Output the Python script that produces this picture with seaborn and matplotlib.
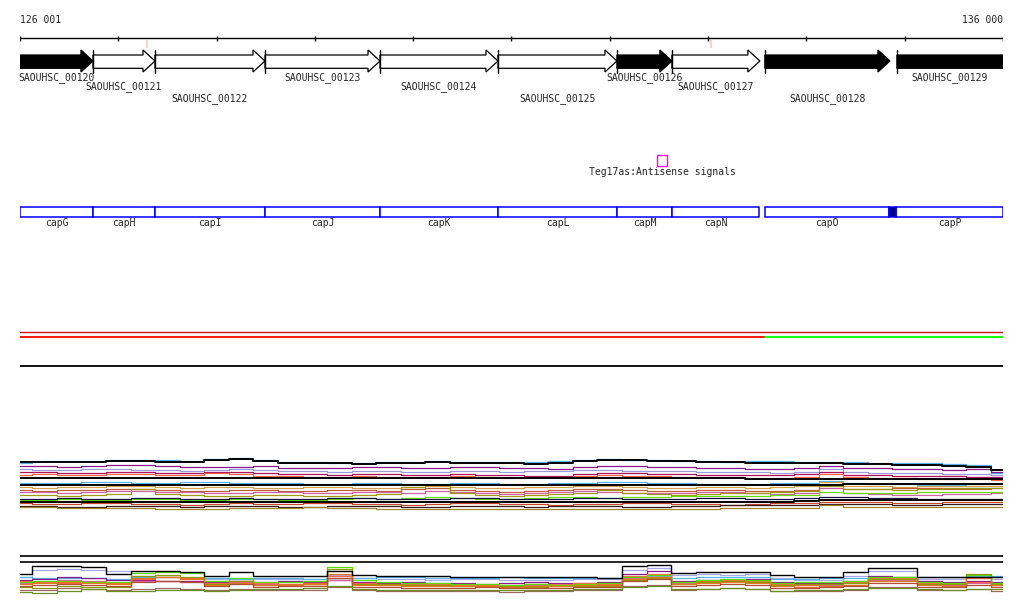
import pandas as pd
import matplotlib
matplotlib.use("Agg")
import matplotlib.pyplot as plt
from matplotlib.patches import Polygon, Rectangle
import seaborn as sns

# genome window shown
region_start = 126001
region_end = 136000
tick_pos = [126001, 127000, 128000, 129000, 130000, 131000, 132000, 133000, 134000, 135000, 136000]

# annotated genes (SAOUHSC locus tags)
gene_names = ["SAOUHSC_00120", "SAOUHSC_00121", "SAOUHSC_00122", "SAOUHSC_00123", "SAOUHSC_00124",
              "SAOUHSC_00125", "SAOUHSC_00126", "SAOUHSC_00127", "SAOUHSC_00128", "SAOUHSC_00129"]
gene_start = [125700, 126743, 127374, 128493, 129663, 130863, 132073, 132632, 133578, 134921]
gene_end = [126743, 127374, 128493, 129663, 130863, 132073, 132632, 133527, 134850, 136500]
gene_filled = [True, False, False, False, False, False, True, False, True, True]

# cap operon boxes
cap_names = ["capG", "capH", "capI", "capJ", "capK", "capL", "capM", "capN", "capO", "capP"]
cap_start = [126001, 126743, 127374, 128493, 129663, 130863, 132073, 132632, 133578, 134911]
cap_end = [126743, 127374, 128493, 129663, 130863, 132073, 132632, 133517, 134840, 136000]
cap_gap_start = 134840
cap_gap_end = 134911

# antisense signal
teg_start = 132480
teg_end = 132582
teg_label = "Teg17as:Antisense signals"
pink_marks = [127293, 133029]

# strand / operon lines
strand_start = [126001, 133578]
strand_end = [133578, 136000]
strand_colors = ["#ff0000", "#00ff00"]

# probe positions for the expression traces
probe_pos = [126000, 126250, 126500, 126750, 127000, 127250, 127500, 127750, 128000, 128250,
             128500, 128750, 129000, 129250, 129500, 129750, 130000, 130250, 130500, 130750,
             131000, 131250, 131500, 131750, 132000, 132250, 132500, 132750, 133000, 133250,
             133500, 133750, 134000, 134250, 134500, 134750, 135000, 135250, 135500, 135750,
             136000]

# upper expression panel (log2 signal)
up_black_1 = [10.6, 10.6, 10.6, 10.6, 10.8, 10.8, 10.6, 10.6, 11.0, 11.2,
              10.8, 10.4, 10.4, 10.4, 10.2, 10.4, 10.4, 10.6, 10.4, 10.4,
              10.4, 10.2, 10.4, 10.8, 11.0, 11.0, 10.8, 10.8, 10.6, 10.6,
              10.4, 10.4, 10.4, 10.4, 10.2, 10.2, 10.0, 10.0, 9.8, 9.6,
              9.0]
up_blue_1 = [10.4, 10.8, 10.8, 10.8, 11.0, 11.0, 11.0, 10.8, 11.2, 11.4,
             11.0, 10.6, 10.6, 10.4, 10.4, 10.6, 10.6, 10.8, 10.6, 10.6,
             10.6, 10.6, 10.8, 11.0, 11.2, 11.0, 11.0, 10.8, 10.8, 10.6,
             10.8, 10.8, 10.6, 10.6, 10.6, 10.4, 10.4, 10.4, 10.2, 10.0,
             8.4]
up_purple = [9.8, 9.8, 9.6, 9.8, 10.0, 10.0, 9.8, 9.6, 9.6, 9.6,
             9.8, 9.4, 9.4, 9.4, 9.6, 9.6, 9.4, 9.4, 9.6, 9.6,
             9.4, 9.4, 9.2, 9.6, 9.8, 9.8, 9.6, 9.6, 9.4, 9.4,
             9.2, 9.2, 9.4, 9.8, 9.4, 9.4, 9.2, 9.2, 9.0, 9.2,
             8.6]
up_lavender = [9.2, 9.0, 9.0, 9.2, 9.2, 9.0, 9.0, 8.8, 9.0, 9.2,
               9.0, 8.8, 8.8, 8.6, 8.8, 8.8, 8.6, 8.6, 8.8, 8.8,
               8.6, 8.8, 8.8, 9.0, 9.0, 8.8, 8.8, 8.8, 8.6, 8.6,
               8.6, 8.4, 8.6, 9.2, 8.6, 8.4, 8.4, 8.4, 8.2, 8.2,
               8.0]
up_crimson = [8.6, 8.6, 8.4, 8.4, 8.6, 8.6, 8.4, 8.4, 8.6, 8.6,
              8.4, 8.2, 8.2, 8.0, 8.2, 8.2, 8.0, 8.0, 8.2, 8.0,
              8.0, 7.8, 7.8, 8.2, 8.4, 8.4, 8.2, 8.2, 8.0, 8.0,
              8.0, 8.0, 8.2, 8.6, 8.0, 8.0, 7.8, 7.8, 7.8, 7.6,
              7.6]
up_tomato = [8.0, 8.2, 8.0, 8.0, 8.2, 8.2, 8.0, 8.0, 8.4, 8.2,
             7.8, 7.8, 7.6, 7.6, 7.8, 7.6, 7.6, 7.6, 7.8, 7.6,
             7.4, 7.6, 7.6, 7.8, 8.0, 7.8, 7.8, 7.6, 7.6, 7.6,
             7.4, 7.4, 7.6, 8.2, 7.6, 7.4, 7.4, 7.2, 7.2, 7.2,
             7.0]
up_black_2 = [7.4, 7.4, 7.4, 7.4, 7.4, 7.4, 7.4, 7.4, 7.4, 7.4,
              7.4, 7.4, 7.4, 7.4, 7.4, 7.4, 7.4, 7.4, 7.4, 7.4,
              7.4, 7.4, 7.4, 7.4, 7.4, 7.4, 7.4, 7.4, 7.4, 7.4,
              7.2, 7.2, 7.2, 7.2, 7.2, 7.2, 7.2, 7.2, 7.2, 7.2,
              7.2]
up_blue_2 = [6.4, 6.4, 6.4, 6.6, 6.6, 6.4, 6.4, 6.6, 6.6, 6.4,
             6.4, 6.4, 6.2, 6.2, 6.4, 6.4, 6.2, 6.2, 6.4, 6.4,
             6.2, 6.2, 6.4, 6.4, 6.6, 6.6, 6.4, 6.4, 6.2, 6.2,
             6.2, 6.4, 6.4, 6.8, 6.4, 6.2, 6.2, 6.0, 6.0, 5.8,
             5.8]
up_black_3 = [6.0, 6.0, 6.0, 6.0, 6.0, 6.0, 6.0, 6.0, 6.0, 6.0,
              6.0, 6.0, 6.0, 6.0, 6.0, 6.0, 6.0, 6.0, 6.0, 6.0,
              6.0, 6.0, 6.0, 6.0, 6.0, 6.0, 6.0, 6.0, 6.0, 6.0,
              6.0, 6.0, 6.0, 6.0, 6.2, 6.2, 6.2, 6.2, 6.2, 6.2,
              6.2]
up_tan = [5.6, 5.4, 5.6, 5.6, 5.8, 5.8, 5.6, 5.4, 5.6, 5.6,
          5.4, 5.4, 5.6, 5.6, 5.4, 5.4, 5.6, 5.8, 5.6, 5.4,
          5.4, 5.6, 5.6, 5.8, 5.8, 5.6, 5.4, 5.4, 5.6, 5.6,
          5.4, 5.6, 5.8, 6.6, 5.8, 5.8, 5.6, 5.8, 5.8, 5.8,
          5.8]
up_sienna = [5.0, 4.8, 5.0, 5.0, 5.2, 5.2, 5.0, 4.8, 4.8, 5.0,
             5.0, 4.8, 4.8, 5.0, 5.0, 4.8, 5.2, 5.4, 5.0, 4.8,
             4.6, 4.8, 5.0, 5.2, 5.2, 5.0, 4.8, 4.8, 5.0, 5.0,
             4.8, 4.8, 5.0, 6.0, 5.2, 5.2, 5.4, 5.4, 5.2, 5.2,
             5.4]
up_pink = [4.6, 4.6, 4.4, 4.6, 4.8, 4.8, 4.6, 4.6, 4.4, 4.4,
           4.6, 4.6, 4.4, 4.4, 4.6, 4.6, 4.4, 4.8, 4.6, 4.4,
           4.2, 4.4, 4.6, 4.8, 4.6, 4.4, 4.4, 4.4, 4.6, 4.6,
           4.4, 4.2, 4.4, 5.4, 4.4, 4.2, 4.0, 4.0, 4.2, 4.2,
           4.4]
up_olive = [4.0, 4.0, 3.8, 4.0, 4.2, 5.2, 4.2, 4.0, 3.8, 3.8,
            4.0, 4.0, 3.8, 3.8, 4.0, 4.2, 5.6, 6.0, 4.4, 4.0,
            3.8, 4.0, 4.2, 4.4, 5.0, 4.4, 4.2, 4.0, 4.2, 4.4,
            4.4, 4.6, 4.8, 5.8, 5.2, 5.2, 5.0, 5.2, 5.4, 5.4,
            5.4]
up_green = [3.0, 3.0, 3.2, 3.0, 3.0, 3.2, 3.2, 3.0, 3.0, 3.2,
            3.2, 3.0, 3.0, 3.2, 3.4, 3.2, 3.4, 3.6, 3.4, 3.2,
            3.2, 3.4, 3.6, 3.6, 3.4, 3.6, 3.6, 3.8, 3.8, 3.8,
            3.8, 4.0, 4.0, 4.6, 4.4, 4.4, 4.4, 4.6, 4.6, 4.6,
            4.6]
up_navy = [3.2, 3.2, 3.4, 3.2, 3.2, 3.4, 3.4, 3.2, 3.2, 3.4,
           3.2, 3.2, 3.2, 3.4, 3.4, 3.2, 3.2, 3.2, 3.4, 3.4,
           3.2, 3.2, 3.2, 3.4, 3.4, 3.2, 3.2, 3.2, 3.4, 3.4,
           3.2, 3.2, 3.4, 3.6, 3.6, 3.4, 3.4, 3.2, 3.2, 3.2,
           3.2]
up_black_4 = [2.6, 2.6, 2.6, 2.6, 2.6, 2.6, 2.6, 2.6, 2.6, 2.6,
              2.6, 2.6, 2.6, 2.6, 2.6, 2.6, 2.6, 2.6, 2.6, 2.6,
              2.6, 2.6, 2.6, 2.6, 2.6, 2.6, 2.6, 2.6, 2.6, 2.6,
              2.6, 2.6, 2.8, 3.0, 3.0, 3.0, 3.0, 3.0, 3.0, 3.0,
              3.0]
up_redbrown = [2.4, 2.2, 2.2, 2.4, 2.4, 2.2, 2.2, 2.0, 2.2, 2.4,
               2.2, 2.2, 2.4, 2.4, 2.2, 2.2, 2.0, 2.2, 2.4, 2.4,
               2.2, 2.2, 2.0, 2.2, 2.2, 2.4, 2.4, 2.2, 2.2, 2.0,
               2.2, 2.4, 2.4, 2.6, 2.6, 2.6, 2.4, 2.4, 2.6, 2.6,
               2.6]
up_darkbrown = [1.8, 1.8, 1.6, 1.6, 1.8, 1.8, 1.8, 1.6, 1.8, 1.8,
                1.8, 1.6, 1.6, 1.8, 1.8, 1.8, 1.6, 1.6, 1.8, 1.8,
                1.8, 1.6, 1.8, 1.8, 1.8, 1.6, 1.6, 1.8, 1.8, 2.0,
                2.0, 2.0, 2.0, 2.2, 2.2, 2.2, 2.0, 2.0, 2.2, 2.2,
                2.2]
up_gold = [1.6, 1.6, 1.4, 1.4, 1.4, 1.4, 1.2, 1.2, 1.2, 1.4,
           1.4, 1.4, 1.6, 1.4, 1.4, 1.2, 1.2, 1.2, 1.2, 1.2,
           1.2, 1.2, 1.2, 1.2, 1.2, 1.2, 1.2, 1.2, 1.2, 1.4,
           1.4, 1.4, 1.4, 2.0, 1.6, 1.6, 1.6, 1.6, 1.6, 1.6,
           1.6]

# lower expression panel (log2 signal)
lo_threshold_hi = 8.8
lo_threshold_lo = 7.6
lo_black = [5.2, 6.8, 6.8, 6.6, 5.2, 5.8, 5.8, 5.6, 4.8, 5.6,
            4.8, 4.8, 4.8, 5.8, 5.0, 4.8, 4.8, 4.8, 4.6, 4.6,
            4.6, 4.6, 4.6, 4.6, 4.4, 6.8, 7.0, 5.4, 5.6, 5.6,
            5.6, 5.0, 4.6, 4.6, 5.6, 6.4, 6.4, 4.6, 4.6, 4.6,
            4.6]
lo_lavender = [4.6, 6.0, 6.2, 6.0, 5.8, 4.8, 4.6, 4.4, 4.2, 4.4,
               4.2, 4.2, 4.2, 5.0, 4.4, 4.2, 4.2, 4.0, 4.2, 4.2,
               4.0, 4.0, 4.0, 4.2, 4.2, 6.0, 6.4, 5.0, 5.2, 5.0,
               5.2, 4.4, 4.0, 4.0, 4.8, 5.8, 5.8, 4.2, 4.2, 4.4,
               4.2]
lo_blue = [4.6, 4.4, 4.4, 4.4, 4.2, 4.6, 4.6, 4.4, 4.4, 4.2,
           4.4, 4.4, 4.2, 4.4, 4.4, 4.6, 4.6, 4.4, 4.4, 4.4,
           4.6, 4.4, 4.4, 4.4, 4.4, 4.6, 4.8, 4.4, 4.6, 4.6,
           4.6, 4.2, 4.2, 4.4, 4.4, 4.4, 4.6, 4.6, 4.6, 4.8,
           4.8]
lo_green = [3.6, 3.8, 3.8, 3.6, 3.6, 5.4, 5.6, 5.4, 3.8, 4.4,
            3.6, 3.6, 3.8, 6.6, 4.0, 3.6, 3.4, 3.4, 3.2, 3.2,
            3.0, 3.2, 3.0, 3.2, 3.4, 4.6, 5.0, 3.6, 4.0, 4.2,
            4.0, 3.4, 3.6, 3.6, 3.8, 4.6, 4.6, 3.6, 3.4, 5.0,
            3.4]
lo_olive = [2.6, 2.4, 2.8, 2.6, 2.6, 4.8, 5.0, 4.6, 3.2, 3.8,
            3.0, 3.0, 3.2, 6.2, 3.2, 3.2, 3.0, 3.0, 2.8, 2.8,
            2.8, 2.6, 2.8, 2.8, 2.8, 4.0, 4.4, 3.2, 3.6, 3.8,
            3.6, 3.0, 3.2, 3.2, 3.4, 4.2, 4.2, 3.2, 3.2, 5.2,
            3.2]
lo_tomato = [3.8, 3.6, 3.4, 3.6, 3.4, 4.2, 4.6, 4.4, 3.4, 3.8,
             3.4, 3.2, 3.4, 4.8, 3.4, 3.2, 3.2, 3.2, 3.0, 3.0,
             3.0, 3.2, 3.2, 3.4, 3.2, 4.8, 5.2, 3.6, 3.8, 4.0,
             3.8, 3.2, 3.0, 3.2, 3.6, 4.4, 4.4, 3.4, 3.2, 3.6,
             3.2]
lo_purple = [4.0, 4.2, 4.6, 4.4, 4.0, 4.0, 3.8, 3.8, 3.6, 3.8,
             3.6, 3.8, 3.6, 4.0, 3.6, 3.4, 3.6, 3.4, 3.4, 3.2,
             3.4, 3.6, 3.4, 3.4, 3.6, 5.2, 5.8, 3.8, 4.0, 4.0,
             4.2, 3.6, 3.4, 3.4, 3.8, 4.8, 4.6, 3.8, 3.6, 3.8,
             3.6]
lo_sienna = [2.8, 3.0, 3.2, 3.0, 2.8, 3.6, 3.8, 3.6, 2.8, 3.2,
             2.6, 2.8, 2.8, 4.4, 2.6, 2.6, 2.4, 2.4, 2.4, 2.6,
             2.4, 2.4, 2.4, 2.6, 2.6, 3.8, 4.2, 2.8, 3.0, 3.2,
             3.0, 2.4, 2.4, 2.6, 2.8, 3.4, 3.4, 2.6, 2.6, 3.0,
             2.6]
lo_orange = [3.2, 3.4, 3.6, 3.4, 3.2, 4.4, 4.6, 4.2, 3.0, 3.4,
             3.0, 3.0, 3.2, 5.2, 3.0, 3.0, 2.8, 2.8, 2.8, 2.8,
             2.6, 2.8, 2.8, 3.0, 3.0, 4.2, 4.6, 3.2, 3.4, 3.6,
             3.4, 2.8, 2.6, 2.8, 3.0, 3.8, 3.8, 3.0, 2.8, 4.4,
             3.0]
lo_pink = [3.4, 3.6, 4.0, 3.8, 3.4, 3.8, 3.8, 3.6, 3.2, 3.6,
           3.2, 3.2, 3.2, 4.0, 3.2, 3.0, 3.0, 3.0, 3.0, 3.0,
           2.8, 3.0, 3.0, 3.2, 3.2, 4.4, 5.0, 3.4, 3.6, 3.8,
           3.6, 3.0, 3.0, 3.0, 3.4, 4.0, 4.0, 3.2, 3.0, 3.4,
           3.0]
lo_greybrown = [2.0, 2.0, 2.4, 2.2, 2.0, 2.2, 2.4, 2.2, 2.0, 2.2,
                2.0, 2.0, 2.0, 2.6, 2.0, 1.8, 1.8, 1.8, 1.8, 1.8,
                1.6, 1.8, 1.8, 2.0, 2.0, 2.8, 3.0, 2.0, 2.2, 2.4,
                2.2, 1.8, 1.8, 1.8, 2.0, 2.6, 2.6, 2.0, 2.0, 2.2,
                1.8]
lo_drab = [1.6, 1.4, 1.8, 2.2, 1.8, 1.8, 2.0, 2.0, 1.8, 2.0,
           2.2, 2.2, 2.4, 2.8, 2.2, 2.0, 2.0, 2.0, 2.0, 2.0,
           2.0, 2.0, 2.0, 2.2, 2.2, 2.6, 2.8, 2.2, 2.2, 2.4,
           2.2, 1.8, 2.0, 2.0, 2.2, 2.4, 2.4, 2.2, 2.0, 2.2,
           2.2]

upper_traces = [
    ("blue_1", up_blue_1, "#55b4ee"), ("purple", up_purple, "#8b1a8b"),
    ("lavender", up_lavender, "#9b9bdb"), ("crimson", up_crimson, "#b0105a"),
    ("tomato", up_tomato, "#ff6347"), ("blue_2", up_blue_2, "#55b4ee"),
    ("tan", up_tan, "#d4a04a"), ("sienna", up_sienna, "#c0603a"),
    ("pink", up_pink, "#d060a8"), ("olive", up_olive, "#a09a10"),
    ("green", up_green, "#66dd00"), ("navy", up_navy, "#141444"),
    ("redbrown", up_redbrown, "#c8482a"), ("darkbrown", up_darkbrown, "#3a1a1a"),
    ("gold", up_gold, "#a08428"),
]
upper_black = [("black_1", up_black_1), ("black_2", up_black_2),
               ("black_3", up_black_3), ("black_4", up_black_4)]

lower_traces = [
    ("lavender", lo_lavender, "#a8a8e8"), ("blue", lo_blue, "#55b4ee"),
    ("purple", lo_purple, "#8b1a8b"), ("pink", lo_pink, "#e060a0"),
    ("tomato", lo_tomato, "#ff6347"), ("green", lo_green, "#55dd00"),
    ("olive", lo_olive, "#8a9a00"), ("orange", lo_orange, "#e07820"),
    ("sienna", lo_sienna, "#b05030"), ("greybrown", lo_greybrown, "#9a6a5a"),
    ("drab", lo_drab, "#6b8e23"),
]


def long_table(traces):
    rows = []
    for name, vals, *_ in traces:
        for p, v in zip(probe_pos, vals):
            rows.append({"pos": p, "signal": v, "probe": name})
    return pd.DataFrame(rows)


sns.set_theme(style="white")
plt.rcParams["font.family"] = ["DejaVu Sans Mono"]
W, H = 1024, 611
fig = plt.figure(figsize=(W / 100, H / 100), dpi=100)
fig.patch.set_facecolor("white")

x0, x1 = 20, 1003


def panel(top, bottom):
    return [x0 / W, 1 - bottom / H, (x1 - x0) / W, (bottom - top) / H]


# annotation axes: x in bp, y in pixel rows
ax = fig.add_axes(panel(0, H))
ax.set_xlim(region_start, region_end)
ax.set_ylim(H, 0)
ax.axis("off")
fs = 7

ax.text(region_start, 23, "126 001", fontsize=fs, ha="left", va="baseline")
ax.text(region_end, 23, "136 000", fontsize=fs, ha="right", va="baseline")
ax.plot([region_start, region_end], [38.3, 38.3], color="black", lw=1)
ax.vlines(tick_pos, 35.5, 41, color="black", lw=1)
ax.vlines(pink_marks, 40, 48, color="#f8d4c4", lw=1.5)

head = 122
for i, (name, s, e, filled) in enumerate(zip(gene_names, gene_start, gene_end, gene_filled)):
    hs = max(s, e - head)
    poly = Polygon([(s, 55), (hs, 55), (hs, 50), (e, 61), (hs, 72), (hs, 68.3), (s, 68.3)],
                   closed=True, facecolor="black" if filled else "white",
                   edgecolor="black", lw=0.9, clip_on=True)
    ax.add_patch(poly)
    if s > region_start:
        ax.plot([s, s], [50, 72.5], color="black", lw=1)
    vis = (max(s, region_start) + min(e, region_end)) / 2
    ax.text(vis, [80, 89, 101][i % 3], name, fontsize=fs, ha="center", va="baseline")

# antisense signal
ax.add_patch(Rectangle((teg_start, 155), teg_end - teg_start, 11, facecolor="white",
                       edgecolor="#ff00ff", lw=1))
ax.text((teg_start + teg_end) / 2, 175, teg_label, fontsize=fs, ha="center", va="baseline")

# cap gene boxes
for name, s, e in zip(cap_names, cap_start, cap_end):
    ax.add_patch(Rectangle((s, 207), e - s, 10, facecolor="white", edgecolor="#0000ff", lw=1.1))
    ax.text((s + e) / 2, 226, name, fontsize=fs, ha="center", va="baseline")
ax.add_patch(Rectangle((cap_gap_start, 207), cap_gap_end - cap_gap_start, 10,
                       facecolor="#00008b", edgecolor="#0000ff", lw=1.1))

# strand lines
ax.plot([region_start, region_end], [331.7, 331.7], color="#d01010", lw=1)
for s, e, c in zip(strand_start, strand_end, strand_colors):
    ax.plot([s, e], [336.8, 336.8], color=c, lw=1.3)
ax.plot([region_start, region_end], [366, 366], color="black", lw=1.3)

# upper expression panel
ax_up = fig.add_axes(panel(455, 515))
up_df = long_table(upper_traces)
sns.lineplot(data=up_df, x="pos", y="signal", hue="probe", estimator=None, sort=False,
             palette={n: c for n, _, c in upper_traces}, legend=False, ax=ax_up,
             lw=0.9, drawstyle="steps-mid")
sns.lineplot(data=long_table(upper_black), x="pos", y="signal", hue="probe", estimator=None,
             sort=False, palette=["black"] * len(upper_black), legend=False, ax=ax_up,
             lw=1.4, drawstyle="steps-mid")
ax_up.set_xlim(region_start, region_end)
ax_up.set_ylim(0, 12)
ax_up.axis("off")

# lower expression panel
ax_lo = fig.add_axes(panel(550, 600))
sns.lineplot(data=long_table(lower_traces), x="pos", y="signal", hue="probe", estimator=None,
             sort=False, palette={n: c for n, _, c in lower_traces}, legend=False, ax=ax_lo,
             lw=0.9, drawstyle="steps-mid")
sns.lineplot(x=probe_pos, y=lo_black, color="black", estimator=None, ax=ax_lo,
             lw=1.0, drawstyle="steps-mid")
ax_lo.axhline(lo_threshold_hi, color="black", lw=1.2)
ax_lo.axhline(lo_threshold_lo, color="black", lw=1.2)
ax_lo.set_xlim(region_start, region_end)
ax_lo.set_ylim(0, 10)
ax_lo.axis("off")

fig.savefig("out.png", dpi=100, facecolor="white")
